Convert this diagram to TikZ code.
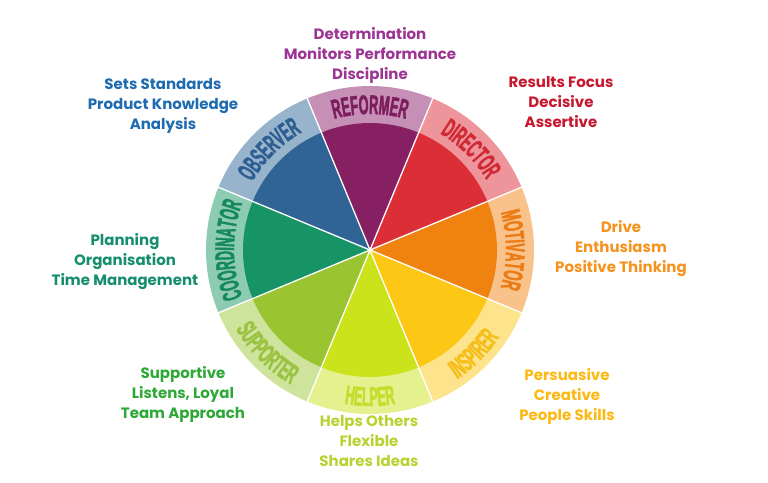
\documentclass[tikz,border=0pt]{standalone}
\usepackage{fontspec}
\setmainfont{Poppins}
\newfontfamily\ringfontfam[FakeStretch=0.47, BoldFeatures={FakeBold=1.6}]{Liberation Sans}
\usetikzlibrary{decorations.text}
\definecolor{refI}{HTML}{862062}\definecolor{refR}{HTML}{C690B6}\definecolor{refL}{HTML}{7D1D5D}\definecolor{refT}{HTML}{9C3594}
\definecolor{dirI}{HTML}{DC2E37}\definecolor{dirR}{HTML}{EE949B}\definecolor{dirL}{HTML}{D12A34}\definecolor{dirT}{HTML}{C8182F}
\definecolor{motI}{HTML}{F0830F}\definecolor{motR}{HTML}{F9C28A}\definecolor{motL}{HTML}{EB7B12}\definecolor{motT}{HTML}{F5931E}
\definecolor{insI}{HTML}{FDC716}\definecolor{insR}{HTML}{FEE38D}\definecolor{insL}{HTML}{F5BE18}\definecolor{insT}{HTML}{FDB913}
\definecolor{helI}{HTML}{CAE31B}\definecolor{helR}{HTML}{E5F18F}\definecolor{helL}{HTML}{C6DC2A}\definecolor{helT}{HTML}{B9D232}
\definecolor{supI}{HTML}{9AC531}\definecolor{supR}{HTML}{CEE39B}\definecolor{supL}{HTML}{99C340}\definecolor{supT}{HTML}{2EA836}
\definecolor{cooI}{HTML}{169465}\definecolor{cooR}{HTML}{8ECBB3}\definecolor{cooL}{HTML}{15885E}\definecolor{cooT}{HTML}{168E6E}
\definecolor{obsI}{HTML}{2F6495}\definecolor{obsR}{HTML}{98B3CC}\definecolor{obsL}{HTML}{2D5F90}\definecolor{obsT}{HTML}{1E6BB0}
\tikzset{
  lab/.style={align=center, inner sep=0pt, font=\fontsize{15}{20}\selectfont\bfseries},
  sep/.style={draw=white, line width=1.3pt},
}
\newcommand{\ringfont}{\ringfontfam\bfseries\fontsize{27}{27}\selectfont}
\begin{document}
\begin{tikzpicture}[x=1pt,y=1pt]
\useasboundingbox (0,0) rectangle (768,-482);
\fill[white] (0,0) rectangle (768,-482);
\begin{scope}[shift={(370,-250)}]
  \foreach \a/\ci/\cr in {90/refI/refR,45/dirI/dirR,0/motI/motR,-45/insI/insR,-90/helI/helR,-135/supI/supR,180/cooI/cooR,135/obsI/obsR}{
    \fill[\cr] (0,0) -- (\a+22.5:164) arc[start angle=\a+22.5, end angle=\a-22.5, radius=164] -- cycle;
    \fill[\ci] (0,0) -- (\a+22.5:127) arc[start angle=\a+22.5, end angle=\a-22.5, radius=127] -- cycle;
  }
  \foreach \a in {22.5,67.5,...,337.5}{
    \draw[sep] (0,0) -- (\a:164.5);
  }
  % top-half labels (letter tops outward)
  \foreach \a/\cl/\t in {90/refL/REFORMER,45/dirL/DIRECTOR,0/motL/MOTIVATOR,180/cooL/COORDINATOR,135/obsL/OBSERVER}{
    \path[decorate, decoration={text along path, text align=center, text={|\ringfont\color{\cl}|\t}}]
      (\a+22.5:136) arc[start angle=\a+22.5, end angle=\a-22.5, radius=136];
  }
  % bottom-half labels (letter tops inward)
  \foreach \a/\cl/\t in {-45/insL/INSPIRER,-90/helL/HELPER,-135/supL/SUPPORTER}{
    \path[decorate, decoration={text along path, text align=center, text={|\ringfont\color{\cl}|\t}}]
      (\a-22.5:156) arc[start angle=\a-22.5, end angle=\a+22.5, radius=156];
  }
\end{scope}
\node[lab, text=refT] (tref) at (370,-55) {Determination\\Monitors Performance\\Discipline};
\node[lab, text=dirT] (tdir) at (561,-102) {Results Focus\\Decisive\\Assertive};
\node[lab, text=motT] (tmot) at (621,-249) {Drive\\Enthusiasm\\Positive Thinking};
\node[lab, text=insT] (tins) at (567,-396) {Persuasive\\Creative\\People Skills};
\node[lab, text=helT] (thel) at (369,-441) {Helps Others\\Flexible\\Shares Ideas};
\node[lab, text=supT] (tsup) at (183,-394) {Supportive\\Listens, Loyal\\Team Approach};
\node[lab, text=cooT] (tcoo) at (125,-262) {Planning\\Organisation\\Time Management};
\node[lab, text=obsT] (tobs) at (163,-106) {Sets Standards\\Product Knowledge\\Analysis};
\end{tikzpicture}
\end{document}
